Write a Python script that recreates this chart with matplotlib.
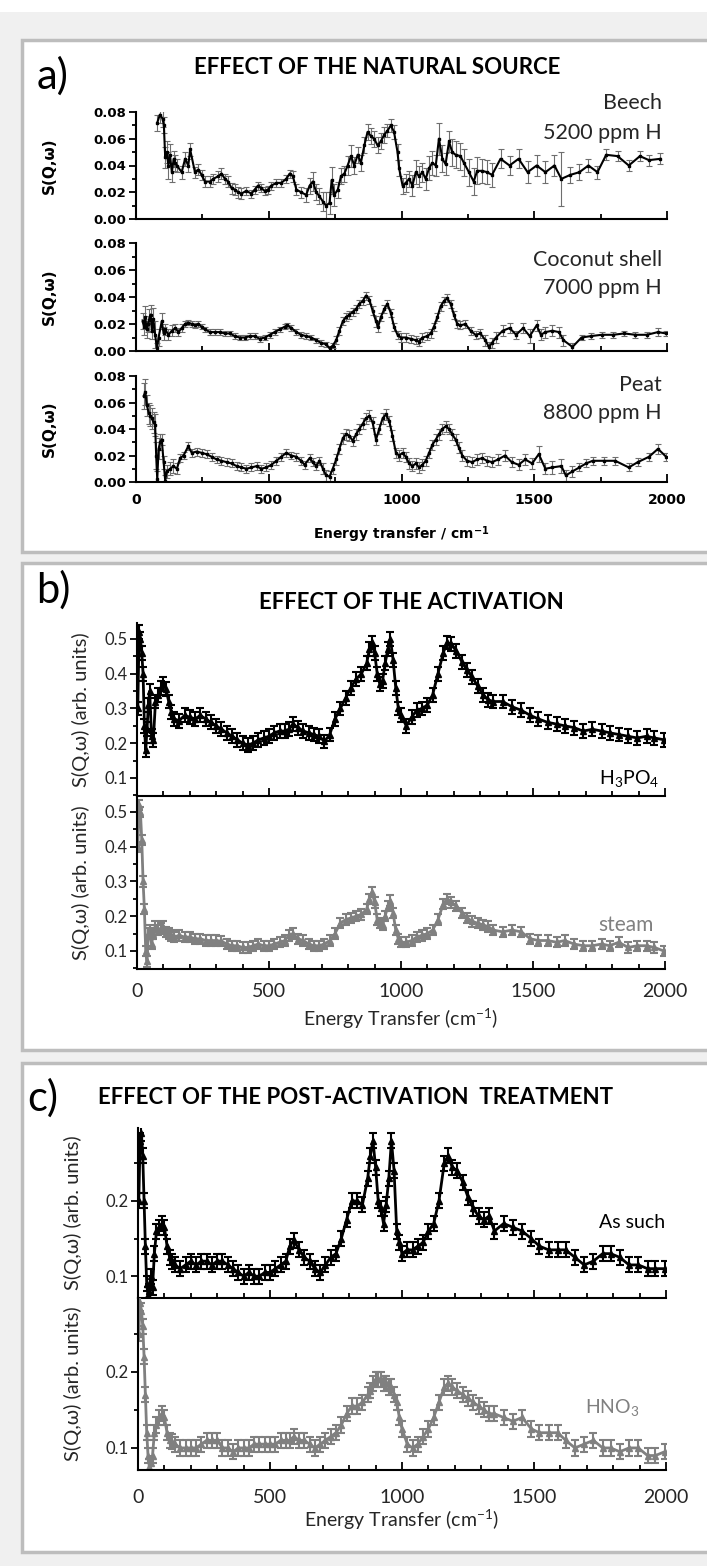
import matplotlib
matplotlib.use("Agg")
import matplotlib.pyplot as plt
from matplotlib.patches import Rectangle
from matplotlib.ticker import MultipleLocator, FormatStrFormatter

plt.rcParams['mathtext.fontset'] = 'custom'
plt.rcParams['mathtext.rm'] = 'Lato'
plt.rcParams['mathtext.it'] = 'Lato:italic'
plt.rcParams['mathtext.bf'] = 'DejaVu Sans:bold'

CAL = ['Lato', 'DejaVu Sans']
BOLD = ['DejaVu Sans']
GREY = '#808080'
DARK = '#262626'

# ---------------- panel a data (energy cm-1, S(Q,w), error) ----------------
beech_x = [80, 90, 100, 105, 110, 116, 122, 128, 135, 142,
           148, 154, 172, 185, 197, 204, 222, 235, 247, 260,
           279, 291, 310, 322, 335, 347, 360, 372, 385, 397,
           415, 435, 447, 460, 472, 485, 497, 510, 529, 547,
           566, 579, 591, 604, 622, 641, 654, 666, 679, 691,
           704, 716, 729, 737, 747, 760, 772, 785, 797, 810,
           822, 835, 847, 860, 872, 885, 897, 910, 922, 935,
           947, 960, 972, 985, 991, 1004, 1016, 1029, 1041, 1054,
           1066, 1079, 1091, 1104, 1116, 1129, 1141, 1154, 1166, 1179,
           1191, 1204, 1222, 1235, 1254, 1272, 1285, 1304, 1322, 1341,
           1373, 1407, 1441, 1475, 1509, 1542, 1576, 1602, 1636, 1670,
           1704, 1738, 1771, 1814, 1856, 1898, 1932, 1975]
beech_y = [0.072, 0.078, 0.075, 0.070, 0.046, 0.050, 0.040, 0.048, 0.035, 0.045,
           0.042, 0.040, 0.035, 0.045, 0.040, 0.052, 0.035, 0.037, 0.033, 0.028,
           0.028, 0.030, 0.032, 0.034, 0.030, 0.028, 0.023, 0.022, 0.020, 0.019,
           0.021, 0.019, 0.022, 0.025, 0.023, 0.021, 0.022, 0.025, 0.027, 0.027,
           0.030, 0.034, 0.032, 0.022, 0.020, 0.018, 0.025, 0.028, 0.020, 0.017,
           0.013, 0.010, 0.012, 0.029, 0.018, 0.022, 0.032, 0.034, 0.040, 0.047,
           0.040, 0.048, 0.042, 0.055, 0.065, 0.062, 0.060, 0.055, 0.058, 0.063,
           0.066, 0.070, 0.065, 0.050, 0.038, 0.025, 0.027, 0.030, 0.025, 0.035,
           0.032, 0.035, 0.030, 0.038, 0.042, 0.040, 0.060, 0.045, 0.041, 0.058,
           0.050, 0.048, 0.047, 0.042, 0.035, 0.028, 0.036, 0.036, 0.035, 0.033,
           0.045, 0.040, 0.045, 0.035, 0.040, 0.035, 0.040, 0.030, 0.033, 0.035,
           0.040, 0.035, 0.048, 0.047, 0.040, 0.047, 0.044, 0.045]
beech_err = [0.006, 0.006, 0.006, 0.006, 0.008, 0.008, 0.010, 0.008, 0.007, 0.006,
             0.006, 0.005, 0.005, 0.005, 0.005, 0.005, 0.004, 0.004, 0.004, 0.004,
             0.004, 0.004, 0.004, 0.004, 0.004, 0.004, 0.004, 0.004, 0.004, 0.004,
             0.003, 0.003, 0.003, 0.003, 0.003, 0.003, 0.003, 0.003, 0.003, 0.003,
             0.003, 0.003, 0.004, 0.004, 0.004, 0.005, 0.006, 0.007, 0.006, 0.006,
             0.007, 0.010, 0.008, 0.010, 0.008, 0.006, 0.006, 0.006, 0.007, 0.008,
             0.006, 0.006, 0.006, 0.006, 0.006, 0.006, 0.006, 0.006, 0.006, 0.006,
             0.005, 0.005, 0.005, 0.006, 0.006, 0.006, 0.007, 0.006, 0.008, 0.009,
             0.008, 0.007, 0.008, 0.009, 0.009, 0.008, 0.012, 0.010, 0.008, 0.008,
             0.010, 0.010, 0.010, 0.010, 0.010, 0.010, 0.010, 0.009, 0.009, 0.009,
             0.007, 0.007, 0.007, 0.008, 0.008, 0.008, 0.008, 0.020, 0.006, 0.006,
             0.005, 0.005, 0.004, 0.004, 0.004, 0.004, 0.004, 0.004]

coco_x = [25, 30, 35, 40, 45, 50, 55, 60, 65, 72,
          79, 85, 97, 104, 110, 122, 135, 148, 160, 172,
          185, 197, 210, 222, 235, 247, 260, 279, 297, 316,
          335, 354, 372, 391, 410, 429, 447, 466, 485, 504,
          522, 541, 560, 570, 585, 604, 622, 641, 660, 679,
          697, 716, 729, 741, 754, 766, 779, 791, 804, 816,
          829, 841, 854, 866, 879, 891, 904, 912, 922, 935,
          947, 960, 972, 985, 997, 1016, 1035, 1054, 1066, 1079,
          1097, 1110, 1122, 1135, 1147, 1160, 1172, 1185, 1197, 1210,
          1222, 1241, 1260, 1279, 1297, 1316, 1329, 1341, 1356, 1381,
          1407, 1432, 1458, 1483, 1509, 1525, 1542, 1568, 1593, 1610,
          1644, 1678, 1712, 1754, 1797, 1839, 1881, 1924, 1966, 1997]
coco_y = [0.022, 0.018, 0.025, 0.016, 0.020, 0.023, 0.027, 0.015, 0.024, 0.012,
          0.002, 0.010, 0.022, 0.013, 0.016, 0.012, 0.015, 0.017, 0.014, 0.017,
          0.020, 0.021, 0.020, 0.019, 0.020, 0.018, 0.016, 0.014, 0.014, 0.014,
          0.013, 0.013, 0.011, 0.010, 0.010, 0.011, 0.011, 0.009, 0.010, 0.012,
          0.014, 0.016, 0.018, 0.019, 0.017, 0.014, 0.012, 0.011, 0.010, 0.008,
          0.006, 0.005, 0.002, 0.004, 0.008, 0.015, 0.022, 0.025, 0.027, 0.029,
          0.031, 0.035, 0.037, 0.041, 0.038, 0.030, 0.022, 0.018, 0.025, 0.031,
          0.035, 0.028, 0.018, 0.012, 0.010, 0.010, 0.009, 0.008, 0.007, 0.010,
          0.011, 0.013, 0.018, 0.025, 0.033, 0.037, 0.039, 0.035, 0.027, 0.020,
          0.019, 0.020, 0.015, 0.012, 0.013, 0.008, 0.003, 0.006, 0.010, 0.015,
          0.017, 0.012, 0.017, 0.011, 0.019, 0.012, 0.014, 0.015, 0.014, 0.008,
          0.003, 0.010, 0.011, 0.012, 0.012, 0.013, 0.012, 0.012, 0.014, 0.013]
coco_err = [0.006, 0.006, 0.008, 0.006, 0.006, 0.008, 0.007, 0.006, 0.008, 0.010,
            0.004, 0.006, 0.006, 0.005, 0.004, 0.004, 0.004, 0.003, 0.003, 0.003,
            0.002, 0.002, 0.002, 0.002, 0.002, 0.002, 0.002, 0.002, 0.002, 0.002,
            0.002, 0.002, 0.002, 0.002, 0.002, 0.002, 0.002, 0.002, 0.002, 0.002,
            0.002, 0.002, 0.002, 0.002, 0.002, 0.002, 0.002, 0.002, 0.002, 0.002,
            0.002, 0.002, 0.002, 0.002, 0.003, 0.003, 0.003, 0.003, 0.003, 0.003,
            0.003, 0.003, 0.003, 0.003, 0.003, 0.003, 0.004, 0.004, 0.003, 0.003,
            0.003, 0.003, 0.003, 0.003, 0.003, 0.003, 0.003, 0.003, 0.003, 0.003,
            0.003, 0.003, 0.003, 0.003, 0.003, 0.003, 0.003, 0.003, 0.003, 0.003,
            0.003, 0.003, 0.003, 0.003, 0.003, 0.004, 0.004, 0.004, 0.004, 0.004,
            0.004, 0.003, 0.004, 0.005, 0.004, 0.004, 0.004, 0.004, 0.004, 0.004,
            0.003, 0.002, 0.002, 0.002, 0.002, 0.002, 0.002, 0.002, 0.003, 0.002]

peat_x = [29, 35, 41, 48, 54, 60, 66, 72, 76, 80,
          85, 91, 97, 104, 110, 116, 129, 141, 154, 166,
          179, 197, 210, 229, 247, 266, 285, 304, 322, 341,
          360, 379, 397, 416, 435, 454, 472, 491, 510, 529,
          547, 566, 585, 604, 622, 635, 654, 666, 679, 691,
          704, 716, 729, 741, 754, 766, 779, 791, 804, 816,
          829, 841, 854, 866, 879, 891, 904, 916, 929, 941,
          954, 966, 979, 991, 1004, 1016, 1029, 1041, 1054, 1066,
          1079, 1091, 1104, 1116, 1129, 1141, 1154, 1166, 1179, 1191,
          1204, 1216, 1229, 1247, 1266, 1285, 1304, 1322, 1341, 1364,
          1390, 1415, 1441, 1466, 1492, 1517, 1542, 1568, 1602, 1619,
          1644, 1670, 1695, 1720, 1763, 1805, 1856, 1890, 1932, 1966,
          1997]
peat_y = [0.065, 0.068, 0.058, 0.052, 0.050, 0.048, 0.045, 0.043, 0.020, 0.002,
          0.025, 0.030, 0.032, 0.015, 0.001, 0.008, 0.010, 0.012, 0.010, 0.018,
          0.020, 0.027, 0.022, 0.023, 0.022, 0.021, 0.019, 0.017, 0.016, 0.015,
          0.014, 0.012, 0.011, 0.010, 0.011, 0.012, 0.010, 0.011, 0.013, 0.016,
          0.019, 0.022, 0.020, 0.019, 0.016, 0.013, 0.018, 0.015, 0.012, 0.016,
          0.010, 0.005, 0.004, 0.010, 0.017, 0.025, 0.033, 0.036, 0.035, 0.031,
          0.036, 0.040, 0.044, 0.048, 0.050, 0.045, 0.032, 0.040, 0.048, 0.051,
          0.046, 0.035, 0.022, 0.020, 0.022, 0.019, 0.014, 0.012, 0.014, 0.011,
          0.013, 0.016, 0.022, 0.028, 0.032, 0.036, 0.040, 0.042, 0.040, 0.036,
          0.032, 0.026, 0.020, 0.016, 0.015, 0.017, 0.018, 0.016, 0.015, 0.017,
          0.020, 0.015, 0.013, 0.017, 0.014, 0.021, 0.010, 0.011, 0.012, 0.005,
          0.008, 0.011, 0.014, 0.016, 0.016, 0.016, 0.011, 0.015, 0.019, 0.025,
          0.019]
peat_err = [0.010, 0.010, 0.008, 0.008, 0.008, 0.008, 0.008, 0.008, 0.010, 0.006,
            0.008, 0.006, 0.004, 0.005, 0.004, 0.005, 0.005, 0.005, 0.004, 0.003,
            0.003, 0.003, 0.003, 0.003, 0.003, 0.003, 0.003, 0.003, 0.003, 0.003,
            0.003, 0.003, 0.003, 0.003, 0.003, 0.003, 0.003, 0.003, 0.003, 0.003,
            0.003, 0.003, 0.003, 0.003, 0.003, 0.003, 0.003, 0.003, 0.003, 0.003,
            0.004, 0.004, 0.004, 0.004, 0.004, 0.004, 0.004, 0.004, 0.004, 0.004,
            0.004, 0.004, 0.004, 0.004, 0.004, 0.004, 0.004, 0.004, 0.004, 0.004,
            0.004, 0.004, 0.004, 0.004, 0.004, 0.004, 0.004, 0.004, 0.004, 0.004,
            0.004, 0.004, 0.004, 0.004, 0.004, 0.004, 0.004, 0.004, 0.004, 0.004,
            0.004, 0.004, 0.004, 0.004, 0.004, 0.004, 0.004, 0.004, 0.004, 0.004,
            0.004, 0.004, 0.004, 0.004, 0.004, 0.006, 0.004, 0.005, 0.005, 0.004,
            0.004, 0.003, 0.003, 0.003, 0.003, 0.003, 0.003, 0.003, 0.003, 0.004,
            0.003]

# ---------------- panels b and c (shared energy grid) ----------------
energy = [3, 8, 13, 18, 23, 28, 33, 38, 43, 48, 55, 62, 70, 80, 90, 100, 110, 120, 130, 140,
          160, 180, 200, 220, 240, 260, 280, 300, 320, 340, 360, 380, 400, 420, 440, 460, 480, 500,
          520, 540, 560, 575, 590, 610, 630, 650, 670, 690, 710, 730, 750, 770, 790, 810, 830, 850,
          870, 880, 890, 900, 910, 920, 930, 940, 950, 960, 970, 980, 990, 1000, 1020, 1040, 1060,
          1080, 1100, 1120, 1140, 1160, 1175, 1190, 1210, 1230, 1250, 1270, 1290, 1310, 1330, 1350,
          1385, 1420, 1455, 1490, 1520, 1555, 1590, 1620, 1655, 1690, 1725, 1760, 1790, 1825, 1860,
          1895, 1930, 1960, 1995]

h3po4 = [0.30, 0.52, 0.50, 0.46, 0.40, 0.25, 0.18, 0.24, 0.31, 0.35, 0.22, 0.21, 0.32, 0.34, 0.36, 0.37, 0.355, 0.32, 0.29, 0.27,
         0.265, 0.28, 0.275, 0.27, 0.28, 0.27, 0.26, 0.25, 0.24, 0.23, 0.22, 0.21, 0.20, 0.195, 0.20, 0.21, 0.215, 0.22,
         0.23, 0.235, 0.235, 0.24, 0.255, 0.245, 0.235, 0.23, 0.225, 0.22, 0.205, 0.225, 0.27, 0.30, 0.33, 0.36, 0.385, 0.40,
         0.43, 0.47, 0.49, 0.46, 0.40, 0.37, 0.38, 0.43, 0.47, 0.50, 0.44, 0.36, 0.30, 0.28, 0.25, 0.275, 0.295,
         0.30, 0.31, 0.34, 0.40, 0.46, 0.49, 0.485, 0.465, 0.435, 0.41, 0.39, 0.365, 0.34, 0.325, 0.32,
         0.32, 0.305, 0.295, 0.28, 0.27, 0.26, 0.255, 0.25, 0.245, 0.235, 0.24, 0.235, 0.23, 0.225, 0.22,
         0.215, 0.22, 0.215, 0.21]
steam = [0.40, 0.52, 0.50, 0.42, 0.30, 0.22, 0.10, 0.07, 0.15, 0.16, 0.12, 0.15, 0.17, 0.16, 0.165, 0.17, 0.155, 0.15, 0.145, 0.14,
         0.145, 0.14, 0.14, 0.135, 0.135, 0.13, 0.13, 0.13, 0.128, 0.12, 0.115, 0.115, 0.11, 0.11, 0.115, 0.12, 0.115, 0.115,
         0.12, 0.125, 0.13, 0.145, 0.15, 0.135, 0.13, 0.12, 0.115, 0.115, 0.12, 0.13, 0.15, 0.18, 0.19, 0.195, 0.20, 0.205,
         0.22, 0.25, 0.27, 0.24, 0.19, 0.18, 0.175, 0.20, 0.23, 0.245, 0.21, 0.16, 0.135, 0.125, 0.125, 0.13, 0.14,
         0.145, 0.15, 0.16, 0.19, 0.235, 0.25, 0.24, 0.23, 0.21, 0.195, 0.185, 0.18, 0.175, 0.17, 0.16,
         0.155, 0.16, 0.155, 0.135, 0.13, 0.13, 0.125, 0.13, 0.12, 0.115, 0.115, 0.12, 0.115, 0.125, 0.11,
         0.115, 0.115, 0.11, 0.10]
as_such = [0.20, 0.28, 0.29, 0.26, 0.20, 0.14, 0.09, 0.075, 0.08, 0.10, 0.085, 0.13, 0.16, 0.165, 0.17, 0.165, 0.14, 0.125, 0.12, 0.115,
           0.11, 0.115, 0.12, 0.115, 0.12, 0.12, 0.115, 0.12, 0.12, 0.115, 0.11, 0.105, 0.10, 0.105, 0.10, 0.10, 0.105, 0.105,
           0.11, 0.115, 0.12, 0.14, 0.148, 0.135, 0.125, 0.12, 0.11, 0.105, 0.115, 0.125, 0.13, 0.15, 0.175, 0.20, 0.20, 0.195,
           0.23, 0.26, 0.28, 0.245, 0.20, 0.19, 0.17, 0.195, 0.23, 0.28, 0.24, 0.16, 0.145, 0.13, 0.135, 0.135, 0.14,
           0.145, 0.16, 0.17, 0.20, 0.25, 0.26, 0.245, 0.24, 0.225, 0.205, 0.19, 0.18, 0.175, 0.18, 0.16,
           0.17, 0.165, 0.16, 0.15, 0.14, 0.135, 0.135, 0.135, 0.125, 0.115, 0.12, 0.13, 0.13, 0.125, 0.115,
           0.115, 0.11, 0.11, 0.11]
hno3 = [0.25, 0.29, 0.28, 0.26, 0.22, 0.17, 0.12, 0.09, 0.075, 0.08, 0.09, 0.12, 0.13, 0.14, 0.145, 0.14, 0.12, 0.11, 0.108, 0.105,
        0.10, 0.10, 0.10, 0.10, 0.105, 0.11, 0.11, 0.11, 0.10, 0.10, 0.095, 0.10, 0.10, 0.10, 0.105, 0.105, 0.105, 0.105,
        0.105, 0.11, 0.11, 0.11, 0.115, 0.11, 0.11, 0.105, 0.10, 0.105, 0.11, 0.115, 0.12, 0.13, 0.145, 0.155, 0.155, 0.16,
        0.17, 0.175, 0.185, 0.19, 0.19, 0.19, 0.185, 0.185, 0.18, 0.18, 0.17, 0.16, 0.14, 0.125, 0.105, 0.10, 0.105,
        0.115, 0.125, 0.14, 0.16, 0.18, 0.185, 0.18, 0.175, 0.17, 0.165, 0.16, 0.155, 0.15, 0.145, 0.145,
        0.14, 0.135, 0.14, 0.125, 0.12, 0.12, 0.12, 0.11, 0.10, 0.105, 0.11, 0.10, 0.10, 0.095, 0.10,
        0.10, 0.09, 0.09, 0.095]
h3po4_err = 0.02
steam_err = 0.015
as_such_err = 0.01
hno3_err = 0.01

W, H = 707, 1566


def fx(px):
    return px / W


def fy(py):
    return 1 - py / H


def add_axes(fig, x0, x1, y0, y1):
    return fig.add_axes([fx(x0), fy(y1), (x1 - x0) / W, (y1 - y0) / H])


def origin_style(ax, xminor, ymajor, yminor, ylim, fmt, ysize, xsize, family, weight,
                 xlabels, xpad, color):
    for s in ('top', 'right'):
        ax.spines[s].set_visible(False)
    for s in ('left', 'bottom'):
        ax.spines[s].set_linewidth(1.5)
    ax.set_xlim(0, 2000)
    ax.set_ylim(*ylim)
    ax.xaxis.set_major_locator(MultipleLocator(500))
    ax.xaxis.set_minor_locator(MultipleLocator(xminor))
    ax.yaxis.set_major_locator(MultipleLocator(ymajor))
    ax.yaxis.set_minor_locator(MultipleLocator(yminor))
    ax.yaxis.set_major_formatter(FormatStrFormatter(fmt))
    ax.tick_params(axis='x', which='both', direction='in', width=1.3, labelbottom=xlabels,
                   pad=xpad, labelcolor=color)
    ax.tick_params(axis='x', which='major', length=6)
    ax.tick_params(axis='x', which='minor', length=3.5)
    ax.tick_params(axis='y', which='both', direction='out', width=1.3, pad=2, labelcolor=color)
    ax.tick_params(axis='y', which='major', length=5)
    ax.tick_params(axis='y', which='minor', length=3)
    ax.patch.set_alpha(0)
    plt.setp(ax.get_yticklabels(), family=family, fontsize=ysize, fontweight=weight)
    plt.setp(ax.get_xticklabels(), family=family, fontsize=xsize, fontweight=weight)


fig = plt.figure(figsize=(W / 100, H / 100), dpi=100, facecolor='#f0f0f0')

# background panels
fig.patches.append(Rectangle((0, fy(12)), 1, 12 / H, transform=fig.transFigure,
                             facecolor='white', edgecolor='none', zorder=-3))
for top, bot in [(40, 552), (563, 1050), (1063, 1552)]:
    fig.patches.append(Rectangle((fx(22), fy(bot)), 1.0, (bot - top) / H,
                                 transform=fig.transFigure, facecolor='white',
                                 edgecolor='#bdbdbd', linewidth=2.5, zorder=-2))

# ---------------- panel a ----------------
a_rows = [(112, 219, beech_x, beech_y, beech_err, 'Beech', '5200 ppm H', 103, 133),
          (243, 351, coco_x, coco_y, coco_err, 'Coconut shell', '7000 ppm H', 260, 288),
          (376, 482, peat_x, peat_y, peat_err, 'Peat', '8800 ppm H', 385, 413)]
for i, (y0, y1, xs, ys, es, name, ppm, ny, py) in enumerate(a_rows):
    ax = add_axes(fig, 136, 667, y0, y1)
    ax.errorbar(xs, ys, yerr=es, color='black', ecolor='#6e6e6e', lw=1.5,
                elinewidth=0.8, capsize=2.2, capthick=0.8, marker='s', ms=1.8)
    origin_style(ax, 250, 0.02, 0.01, (0, 0.08), '%.2f', 9.5, 10, BOLD, 'bold', i == 2, 8,
                 'black')
    ax.set_ylabel('S(Q,ω)', family=BOLD, fontweight='bold', fontsize=11)
    ax.yaxis.set_label_coords((57 - 136) / 531, 0.5)
    fig.text(fx(662), fy(ny), name, ha='right', va='center', family=CAL, fontsize=15.5,
             color=DARK)
    fig.text(fx(662), fy(py), ppm, ha='right', va='center', family=CAL, fontsize=15.5,
             color=DARK)
    if i == 2:
        ax.set_xlabel(r'Energy transfer / cm$^{\mathbf{-1}}$', family=BOLD,
                      fontweight='bold', fontsize=10, labelpad=12)

fig.text(fx(53), fy(76), 'a)', ha='center', va='center', family=CAL, fontsize=30)
fig.text(fx(377), fy(68), 'EFFECT OF THE NATURAL SOURCE', ha='center', va='center',
         family=CAL, fontweight='bold', fontsize=16)

# ---------------- panel b ----------------
b_rows = [(623, 796, h3po4, h3po4_err, 'black', r'H$_3$PO$_4$', 778, 'black', 659, 14),
          (796, 969, steam, steam_err, GREY, 'steam', 925, GREY, 654, 15)]
for i, (y0, y1, ys, es, col, name, ty, tcol, tx, ts) in enumerate(b_rows):
    ax = add_axes(fig, 137, 665, y0, y1)
    ax.errorbar(energy, ys, yerr=es, color=col, ecolor=col, lw=2,
                elinewidth=1.5, capsize=3, capthick=1.5, marker='^', ms=4)
    origin_style(ax, 100, 0.1, 0.05, (0.048, 0.546), '%.1f', 12, 14, CAL, 'normal', i == 1, 10,
                 DARK)
    ax.set_ylabel('S(Q,ω) (arb. units)', family=CAL, fontsize=14.5, color=DARK)
    ax.yaxis.set_label_coords((90 - 137) / 528, 0.5)
    fig.text(fx(tx), fy(ty), name, ha='right', va='center', family=CAL, fontsize=ts, color=tcol)
    if i == 1:
        ax.set_xlabel(r'Energy Transfer (cm$^{-1}$)', family=CAL, fontsize=14, labelpad=5,
                      color=DARK)

fig.text(fx(53), fy(590), 'b)', ha='center', va='center', family=CAL, fontsize=30)
fig.text(fx(411), fy(603), 'EFFECT OF THE ACTIVATION', ha='center', va='center',
         family=CAL, fontweight='bold', fontsize=16)

# ---------------- panel c ----------------
c_rows = [(1128, 1298, as_such, as_such_err, 'black', 'As such', 1223, 'black', 665),
          (1298, 1470, hno3, hno3_err, GREY, r'HNO$_3$', 1408, GREY, 640)]
for i, (y0, y1, ys, es, col, name, ty, tcol, tx) in enumerate(c_rows):
    ax = add_axes(fig, 138, 666, y0, y1)
    ax.errorbar(energy, ys, yerr=es, color=col, ecolor=col, lw=2,
                elinewidth=1.5, capsize=3, capthick=1.5, marker='^', ms=4)
    origin_style(ax, 100, 0.1, 0.05, (0.071, 0.297), '%.1f', 12, 14, CAL, 'normal', i == 1, 14,
                 DARK)
    ax.set_ylabel('S(Q,ω) (arb. units)', family=CAL, fontsize=14.5, color=DARK)
    ax.yaxis.set_label_coords((82 - 138) / 528, 0.5)
    fig.text(fx(tx), fy(ty), name, ha='right', va='center', family=CAL, fontsize=14, color=tcol)
    if i == 1:
        ax.set_xlabel(r'Energy Transfer (cm$^{-1}$)', family=CAL, fontsize=14, labelpad=1,
                      color=DARK)

fig.text(fx(43), fy(1098), 'c)', ha='center', va='center', family=CAL, fontsize=30)
fig.text(fx(356), fy(1097), 'EFFECT OF THE POST-ACTIVATION  TREATMENT', ha='center',
         va='center', family=CAL, fontweight='bold', fontsize=16)

fig.savefig('out.png', dpi=100, facecolor=fig.get_facecolor())
